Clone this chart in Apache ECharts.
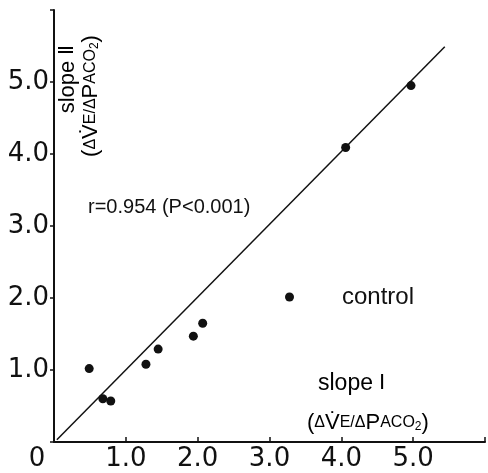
<!DOCTYPE html>
<html>
<head>
<meta charset="utf-8">
<script src="https://cdn.jsdelivr.net/npm/echarts@6/dist/echarts.min.js"></script>
<style>
  html, body { margin: 0; padding: 0; background: #fff; }
  #main { width: 488px; height: 473px; }
</style>
</head>
<body>
<div id="main"></div>
<script>
// slope I (x) vs slope II (y), control group
var slopeI = [0.49, 0.68, 0.79, 1.28, 1.45, 1.94, 2.07, 4.06, 4.97];
var slopeII = [1.02, 0.60, 0.57, 1.08, 1.29, 1.47, 1.65, 4.09, 4.95];
// regression line end points
var fitX = [0.04, 5.44];
var fitY = [0.03, 5.49];
var tickValues = [0, 1, 2, 3, 4, 5, 6];

var dom = document.getElementById('main');
var myChart = echarts.init(dom);

var points = slopeI.map(function (x, i) { return [x, slopeII[i]]; });
var fitLine = fitX.map(function (x, i) { return [x, fitY[i]]; });

var labelFont = 'DejaVu Sans';
var unitRich = {
    b: { fontSize: 22, fontFamily: 'Liberation Sans', color: '#111' },
    s: { fontSize: 16, fontFamily: 'Liberation Sans', color: '#111' },
    d: { fontSize: 12, fontFamily: 'Liberation Sans', color: '#111', padding: [7, 0, 0, 0] }
};
var unitText = '{b|(}{s|Δ}{b|V̇}{s|E/Δ}{b|P}{s|ACO}{d|2}{b|)}';

option = {
    backgroundColor: '#fff',
    animation: false,
    grid: { left: 54, top: 10, right: 2, bottom: 31, containLabel: false },
    legend: {
        data: ['control'],
        left: 280,
        top: 280,
        icon: 'circle',
        itemWidth: 9,
        itemHeight: 9,
        textStyle: {
            fontSize: 24,
            fontFamily: 'Liberation Sans',
            color: '#111',
            padding: [0, 0, 0, 43]
        }
    },
    xAxis: {
        type: 'value',
        min: 0,
        max: 6,
        interval: 1,
        splitLine: { show: false },
        axisLine: { onZero: false, lineStyle: { color: '#111', width: 2 } },
        axisTick: { inside: true, length: 5, lineStyle: { color: '#111', width: 1.5 } },
        axisLabel: {
            margin: 4,
            fontSize: 26,
            fontFamily: labelFont,
            color: '#111',
            formatter: function (v) {
                if (v === 0) return '{z|0}';
                if (v >= 6) return '';
                return v.toFixed(1);
            },
            rich: { z: { fontSize: 26, fontFamily: labelFont, color: '#111', padding: [0, 34, 0, 0] } }
        }
    },
    yAxis: {
        type: 'value',
        min: 0,
        max: 6,
        interval: 1,
        splitLine: { show: false },
        axisLine: { onZero: false, lineStyle: { color: '#111', width: 2 } },
        axisTick: { inside: false, length: 4, lineStyle: { color: '#111', width: 1.5 } },
        axisLabel: {
            margin: 5,
            fontSize: 26,
            fontFamily: labelFont,
            color: '#111',
            formatter: function (v) {
                if (v === 0 || v >= 6) return '';
                return v.toFixed(1);
            }
        }
    },
    graphic: [
        {
            type: 'text', left: 88, top: 197,
            style: { text: 'r=0.954 (P<0.001)', fontSize: 20, fontFamily: 'Liberation Sans', fill: '#111' }
        },
        {
            type: 'text', left: 318, top: 372,
            style: {
                text: '{a|slope }{r|Ⅰ}',
                rich: {
                    a: { fontSize: 23, fontFamily: 'Liberation Sans', color: '#111' },
                    r: { fontSize: 21, fontFamily: 'Liberation Serif', color: '#111' }
                }
            }
        },
        {
            type: 'text', left: 307, top: 412,
            style: { text: unitText, rich: unitRich }
        },
        {
            type: 'text', x: 68, y: 79, rotation: Math.PI / 2,
            style: {
                text: '{a|slope }{r|Ⅱ}',
                align: 'center', verticalAlign: 'middle',
                rich: {
                    a: { fontSize: 22, fontFamily: 'Liberation Sans', color: '#111' },
                    r: { fontSize: 20, fontFamily: 'Liberation Serif', color: '#111' }
                }
            }
        },
        {
            type: 'text', x: 91, y: 96, rotation: Math.PI / 2,
            style: {
                text: unitText,
                align: 'center', verticalAlign: 'middle',
                rich: unitRich
            }
        }
    ],
    series: [
        {
            name: 'fit',
            type: 'line',
            data: fitLine,
            symbol: 'none',
            lineStyle: { color: '#111', width: 1.5 },
            z: 2
        },
        {
            name: 'control',
            type: 'scatter',
            data: points,
            symbol: 'circle',
            symbolSize: 9,
            itemStyle: { color: '#111', opacity: 1 },
            z: 3
        }
    ]
};

if (option && typeof option === 'object') {
    myChart.setOption(option, true);
}
</script>
</body>
</html>
